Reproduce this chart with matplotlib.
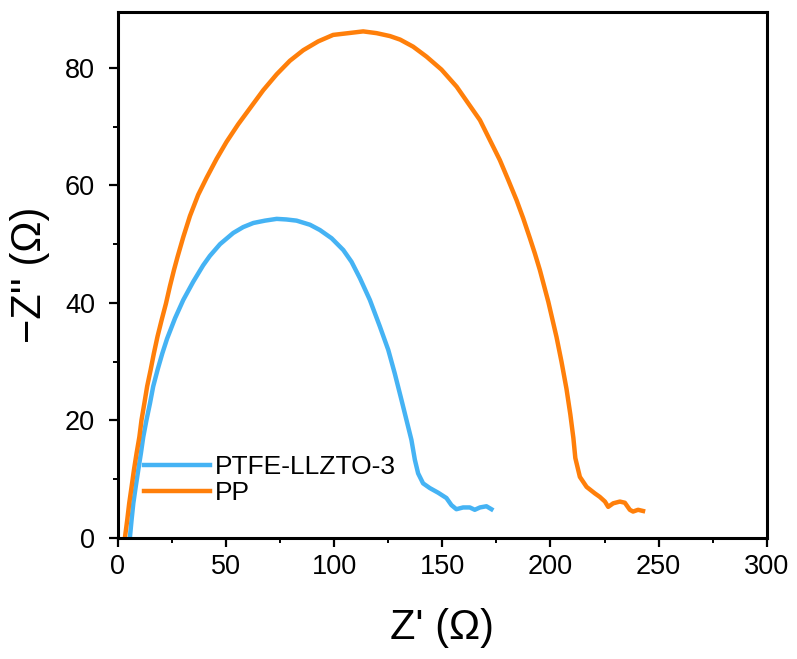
import matplotlib
matplotlib.use("Agg")
import matplotlib.pyplot as plt
from matplotlib.ticker import MultipleLocator

plt.rcParams['font.family'] = ['Liberation Sans', 'DejaVu Sans']

labels = ["PTFE-LLZTO-3", "PP"]
colors = ["#45B3F4", "#FF7F0A"]

ptfe_x = [5.5, 6.3, 7.1, 8.2, 9.4, 10.6, 11.7, 13.2, 14.8, 16.3, 18.3, 20.5, 22.7, 26.4, 30.2,
          34.8, 39.4, 42.5, 47.2, 53.3, 57.9, 62.6, 68.0, 73.4, 77.9, 82.6, 88.8, 93.4,
          98.8, 104.2, 108.0, 111.9, 116.5, 121.1, 125.0, 128.0, 131.1, 133.4, 135.7, 137.3,
          138.8, 141.1, 144.2, 148.1, 151.9, 154.2, 156.5, 159.6, 162.7, 165.0, 167.4, 170.4,
          172.7]
ptfe_y = [0.0, 3.1, 5.9, 8.7, 11.6, 14.4, 17.2, 20.1, 22.9, 25.8, 28.6, 31.4, 33.9, 37.4, 40.5,
          43.6, 46.4, 48.0, 50.0, 51.9, 52.9, 53.6, 54.0, 54.3, 54.2, 54.0, 53.3, 52.4,
          51.0, 49.0, 47.0, 44.2, 40.5, 36.0, 32.0, 28.0, 23.5, 20.1, 16.7, 13.3,
          11.0, 9.3, 8.5, 7.7, 6.8, 5.6, 4.9, 5.2, 5.2, 4.8, 5.2, 5.4,
          4.9]

pp_x = [3.2, 4.3, 5.2, 6.3, 7.4, 8.6, 9.9, 10.9, 12.2, 13.5, 15.1, 16.6, 18.3, 20.2, 22.2, 24.0,
        25.9, 27.6, 30.2, 33.3, 37.1, 41.0, 45.6, 50.2, 55.6, 61.0, 67.2, 73.4, 79.5, 85.7,
        92.6, 99.5, 106.5, 113.4, 119.6, 125.8, 130.5, 136.5, 142.7, 149.6, 156.6, 161.9,
        167.4, 172.0, 176.6, 180.5, 184.3, 187.4, 190.5, 192.8, 195.1, 199.0, 202.8, 205.1,
        207.4, 209.2, 210.6, 211.5, 213.6, 216.7, 220.5, 222.8, 225.2, 226.7, 229.0, 232.1,
        234.4, 236.7, 238.2, 240.5, 242.8]
pp_y = [0.0, 3.1, 5.9, 8.7, 11.6, 14.4, 17.2, 20.1, 22.9, 25.8, 28.6, 31.4, 34.3, 37.1, 39.9, 42.8,
        45.6, 47.9, 51.2, 54.8, 58.4, 61.3, 64.5, 67.4, 70.4, 73.1, 76.2, 78.9, 81.2, 83.0,
        84.5, 85.6, 85.9, 86.2, 85.9, 85.4, 84.8, 83.6, 81.9, 79.7, 76.8, 74.0,
        71.1, 67.7, 64.3, 60.9, 57.5, 54.4, 51.0, 48.4, 45.6, 40.2, 34.2, 30.0,
        25.4, 21.0, 17.0, 13.6, 10.4, 8.7, 7.6, 7.0, 6.2, 5.3, 5.9, 6.2,
        6.0, 4.8, 4.5, 4.8, 4.6]

fig = plt.figure(figsize=(7.97, 6.59), dpi=100)
ax = fig.add_axes([0.148, 0.1836, 0.814, 0.7982])

ax.plot(ptfe_x, ptfe_y, color=colors[0], lw=3.2, label=labels[0], solid_joinstyle='round')
ax.plot(pp_x, pp_y, color=colors[1], lw=3.2, label=labels[1], solid_joinstyle='round')

ax.set_xlim(0, 300)
ax.set_ylim(0, 89.5)
ax.xaxis.set_major_locator(MultipleLocator(50))
ax.xaxis.set_minor_locator(MultipleLocator(25))
ax.yaxis.set_major_locator(MultipleLocator(20))
ax.yaxis.set_minor_locator(MultipleLocator(10))

for s in ax.spines.values():
    s.set_linewidth(2.2)
ax.tick_params(which='major', direction='out', length=6.5, width=1.6, labelsize=19.5)
ax.tick_params(which='minor', direction='out', length=3.5, width=1.4)
ax.tick_params(axis='x', which='major', pad=5)
ax.tick_params(axis='y', which='major', pad=10)
ax.tick_params(top=False, right=False)

ax.set_xlabel("Z' (Ω)", fontsize=30, labelpad=20)
ax.set_ylabel("−Z'' (Ω)", fontsize=30, labelpad=11)

ax.legend(loc='upper left', bbox_to_anchor=(0.04, 0.157), frameon=False, fontsize=19,
          handlelength=2.5, handletextpad=0.2, labelspacing=0.05, borderpad=0, borderaxespad=0)

fig.savefig("out.png", dpi=100)
